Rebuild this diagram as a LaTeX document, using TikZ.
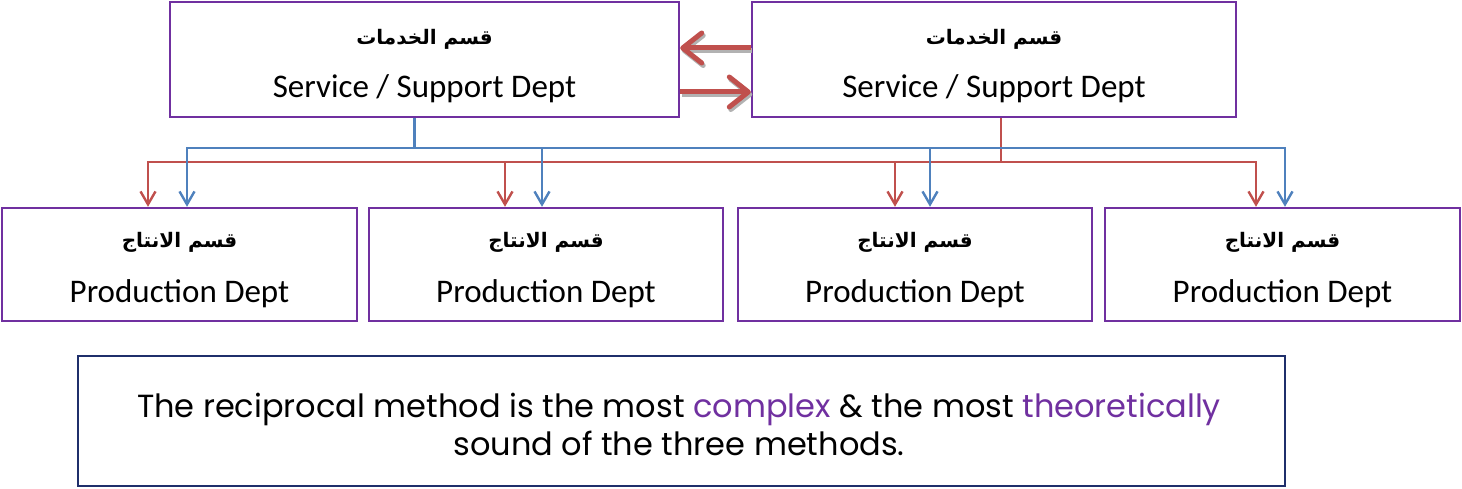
\documentclass[tikz,border=0pt]{standalone}
\usepackage{fontspec}
\setmainfont{Carlito}
\newfontfamily\arabicfont[Script=Arabic]{DejaVu Sans}
\newfontfamily\gothic{Poppins}
\TeXXeTstate=1
\usetikzlibrary{arrows.meta,calc}
\definecolor{boxpurple}{HTML}{7030A0}
\definecolor{conblue}{HTML}{4F81BD}
\definecolor{conred}{HTML}{C0504D}
\definecolor{navyline}{HTML}{1F2F6B}
\definecolor{txtpurple}{HTML}{7030A0}
\tikzset{
  deptbox/.style={draw=boxpurple, line width=2.4pt, rectangle, fill=white},
  artext/.style={font=\arabicfont\bfseries\fontsize{20}{24}\selectfont, inner sep=0pt},
  entext/.style={font=\fontsize{33}{38}\selectfont, inner sep=0pt},
  bcon/.style={draw=conblue, line width=2.4pt, -{Straight Barb[length=13pt,width=15pt]}},
  rcon/.style={draw=conred, line width=2.4pt, -{Straight Barb[length=13pt,width=15pt]}},
  bigarrow/.style={draw=conred, line width=5pt, -{Straight Barb[round,length=19pt,width=30pt]},
    preaction={draw=black!30, line width=5pt, transform canvas={shift={(1.5pt,-2.5pt)}}}},
  notebox/.style={draw=navyline, line width=2.4pt, rectangle},
}
\begin{document}
\begin{tikzpicture}[x=1pt,y=-1pt]
\useasboundingbox (0,0) rectangle (1462,489);
% service departments
\node[deptbox, minimum width=509pt, minimum height=115pt] (s1) at (424.5,59.5) {};
\node[deptbox, minimum width=484pt, minimum height=115pt] (s2) at (994,59.5) {};
\node[artext] (s1a) at ($(s1.center)+(0,-20)$) {\beginR قسم الخدمات\endR};
\node[entext] (s1e) at ($(s1.center)+(0,29)$) {Service / Support Dept};
\node[artext] (s2a) at ($(s2.center)+(0,-20)$) {\beginR قسم الخدمات\endR};
\node[entext] (s2e) at ($(s2.center)+(0,29)$) {Service / Support Dept};
% production departments
\node[deptbox, minimum width=355pt, minimum height=113pt] (p1) at (179.5,264.5) {};
\node[deptbox, minimum width=354pt, minimum height=113pt] (p2) at (546,264.5) {};
\node[deptbox, minimum width=354pt, minimum height=113pt] (p3) at (915,264.5) {};
\node[deptbox, minimum width=355pt, minimum height=113pt] (p4) at (1282.5,264.5) {};
\foreach \p in {p1,p2,p3,p4}{
  \node[artext] (\p a) at ($(\p.center)+(0,-22)$) {\beginR قسم الانتاج\endR};
  \node[entext] (\p e) at ($(\p.center)+(0,29)$) {Production Dept};
}
% reciprocal arrows
\draw[bigarrow] (s2.west |- 0,48) -- (s1.east |- 0,48);
\draw[bigarrow] (s1.east |- 0,92) -- (s2.west |- 0,92);
% red connectors from right service dept
\draw[rcon] ($(s2.south)+(7,0)$) |- (148,162) -- (p1.north -| 148,0);
\draw[rcon] ($(s2.south)+(7,0)$) |- (505,162) -- (p2.north -| 505,0);
\draw[rcon] ($(s2.south)+(7,0)$) |- (895,162) -- (p3.north -| 895,0);
\draw[rcon] ($(s2.south)+(7,0)$) |- (1256,162) -- (p4.north -| 1256,0);
% blue connectors from left service dept
\draw[bcon] ($(s1.south)+(-10,0)$) |- (187,148) -- (p1.north -| 187,0);
\draw[bcon] ($(s1.south)+(-10,0)$) |- (542,148) -- (p2.north -| 542,0);
\draw[bcon] ($(s1.south)+(-10,0)$) |- (930,148) -- (p3.north -| 930,0);
\draw[bcon] ($(s1.south)+(-10,0)$) |- (1285,148) -- (p4.north -| 1285,0);
% note box
\node[notebox, minimum width=1207pt, minimum height=130pt] (note) at (681.5,421) {};
\node[font=\gothic\fontsize{32}{38}\selectfont, align=center, inner sep=0pt] (notetext) at (679,424)
  {The reciprocal method is the most \textcolor{txtpurple}{complex} \& the most \textcolor{txtpurple}{theoretically}\\
   sound of the three methods.};
\end{tikzpicture}
\end{document}
